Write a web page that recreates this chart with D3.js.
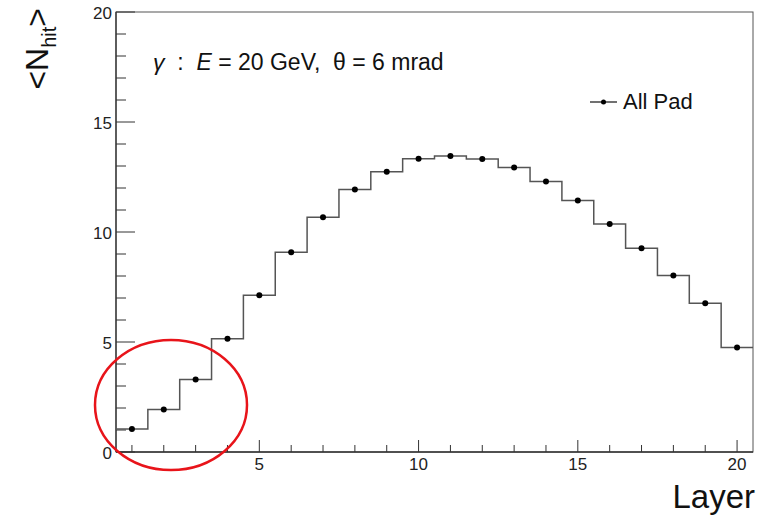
<!DOCTYPE html>
<html><head><meta charset="utf-8">
<script src="https://cdn.jsdelivr.net/npm/d3@7"></script>
<style>body{margin:0;background:#fff}svg{display:block;font-family:"Liberation Sans",Arial,sans-serif}</style>
</head><body>
<svg id="c" width="763" height="518"></svg>
<script>
const layers = [1,2,3,4,5,6,7,8,9,10,11,12,13,14,15,16,17,18,19,20];
const nhit = [1.05,1.93,3.30,5.15,7.12,9.08,10.67,11.93,12.74,13.33,13.45,13.32,12.93,12.29,11.43,10.36,9.26,8.02,6.76,4.75];
const xTicks = [5,10,15,20];
const yTicks = [0,5,10,15,20];
const seriesName = "All Pad";
const infoText = ["γ", "  :  ", "E", " = 20 GeV,  θ = 6 mrad"];

const svg = d3.select("#c");
const L=116, R=753, T=12, B=452;
const x = d3.scaleLinear().domain([0.5,20.5]).range([L,R]);
const y = d3.scaleLinear().domain([0,20]).range([B,T]);
const axisCol = "#333";

// frame
svg.append("rect").attr("x",L).attr("y",T).attr("width",R-L).attr("height",B-T)
  .attr("fill","none").attr("stroke","#555").attr("stroke-width",1);

// x ticks (inward)
const xMinor = d3.range(1,21);
svg.append("g").selectAll("line").data(xMinor).join("line")
  .attr("x1",d=>x(d)).attr("x2",d=>x(d)).attr("y1",B)
  .attr("y2",d=>xTicks.includes(d)?B-12:B-7)
  .attr("stroke",axisCol).attr("stroke-width",1);
svg.append("g").selectAll("text").data(xTicks).join("text")
  .attr("x",d=>x(d)).attr("y",B+18).attr("text-anchor","middle")
  .attr("font-size",17).attr("fill","#222").text(d=>d);

// y ticks
const yMinor = d3.range(0,21);
svg.append("g").selectAll("line").data(yMinor).join("line")
  .attr("x1",L).attr("x2",d=>yTicks.includes(d)?L+19:L+10)
  .attr("y1",d=>y(d)).attr("y2",d=>y(d))
  .attr("stroke",axisCol).attr("stroke-width",1);
svg.append("g").selectAll("text").data(yTicks).join("text")
  .attr("x",L-4).attr("y",d=>y(d)+6.5).attr("text-anchor","end")
  .attr("font-size",17).attr("fill","#222").text(d=>d);

// axis lines
svg.append("line").attr("x1",L).attr("x2",R).attr("y1",B).attr("y2",B).attr("stroke",axisCol).attr("stroke-width",1.3);
svg.append("line").attr("x1",L).attr("x2",L).attr("y1",T).attr("y2",B).attr("stroke",axisCol).attr("stroke-width",1.3);

// histogram step
const pts = [];
layers.forEach((l,i)=>{ pts.push([x(l-0.5),y(nhit[i])]); pts.push([x(l+0.5),y(nhit[i])]); });
svg.append("path").attr("d",d3.line()(pts)).attr("fill","none").attr("stroke","#555").attr("stroke-width",1.5);

// markers
svg.append("g").selectAll("circle").data(layers).join("circle")
  .attr("cx",d=>x(d)).attr("cy",(d,i)=>y(nhit[i])).attr("r",3).attr("fill","#000");

// info text
const t = svg.append("text").attr("x",153).attr("y",70).attr("font-size",23).attr("fill","#111")
  .style("white-space","pre");
t.append("tspan").attr("font-style","italic").text(infoText[0]);
t.append("tspan").text(infoText[1]);
t.append("tspan").attr("font-style","italic").text(infoText[2]);
t.append("tspan").text(infoText[3]);

// legend
svg.append("line").attr("x1",590).attr("x2",617).attr("y1",102).attr("y2",102).attr("stroke","#111").attr("stroke-width",1.2);
svg.append("circle").attr("cx",603.5).attr("cy",102).attr("r",2.5).attr("fill","#000");
svg.append("text").attr("x",623).attr("y",109).attr("font-size",22).attr("fill","#111").text(seriesName);

// axis titles
svg.append("text").attr("x",755).attr("y",508).attr("text-anchor","end").attr("font-size",33).attr("fill","#111").text("Layer");
const yt = svg.append("text").attr("transform","translate(48,8) rotate(-90)").attr("text-anchor","end")
  .attr("font-size",32).attr("fill","#111");
yt.append("tspan").text("<N");
yt.append("tspan").attr("font-size",20).attr("dy",8).text("hit");
yt.append("tspan").attr("dy",-8).text(">");

// red annotation ellipse
svg.append("ellipse").attr("cx",171).attr("cy",405).attr("rx",76).attr("ry",65)
  .attr("fill","none").attr("stroke","#e8141a").attr("stroke-width",2.5);
</script>
</body></html>
